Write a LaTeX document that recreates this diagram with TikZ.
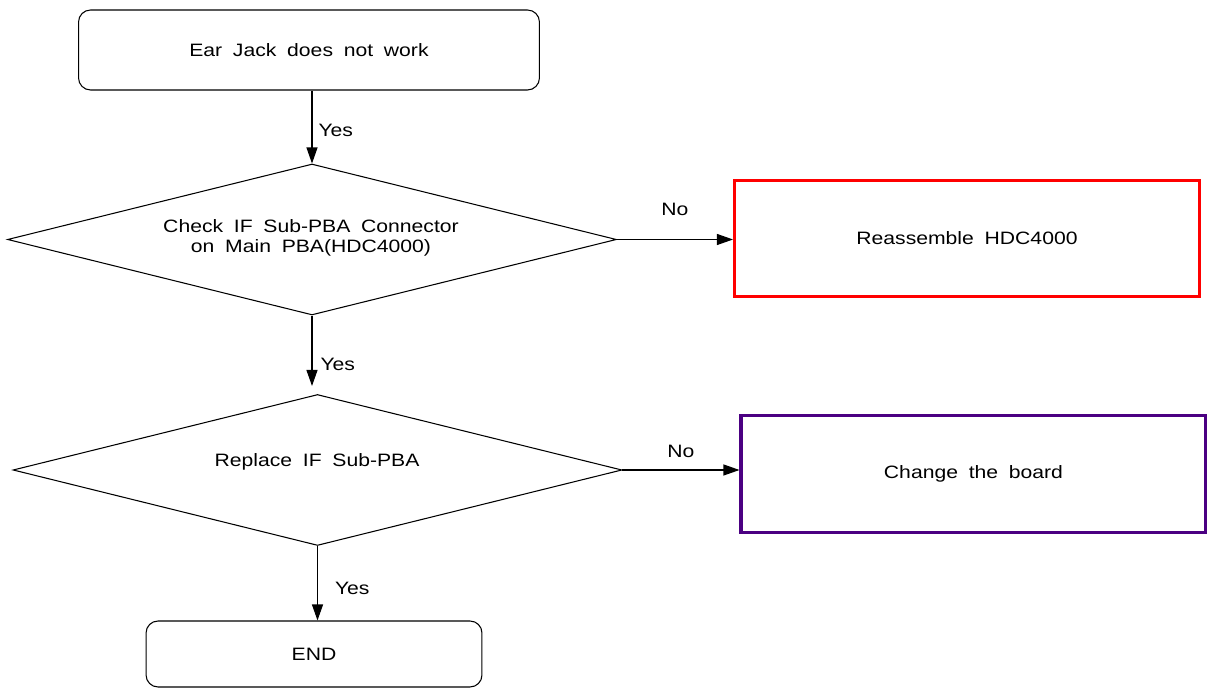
\documentclass[tikz,border=0pt]{standalone}
\usepackage{fontspec}
\setmainfont[FakeStretch=1.18]{Liberation Sans}
\usetikzlibrary{arrows.meta,positioning,shapes.geometric}
\definecolor{alarm}{HTML}{FF0000}
\definecolor{indigo}{HTML}{4B0082}
\newcommand\chartfont{\fontsize{10.2}{11.4}\selectfont\spaceskip 0.6em\relax}

\begin{document}
\begin{tikzpicture}[x=0.02cm,y=-0.02cm,
   font=\chartfont,
   every node/.style={inner sep=0pt},
   term/.style={draw,rounded corners=0.24cm,line width=0.6pt,minimum width=#1},
   decide/.style={draw,diamond,line width=0.6pt,minimum width=12.18cm,minimum height=3.02cm},
   action/.style={draw=#1,line width=1.8pt,minimum width=9.3cm,minimum height=2.33cm},
   flow/.style={line width=0.6pt,-{Triangle[length=0.32cm,width=0.22cm]}}]
  \useasboundingbox (0,0) rectangle (1207,688);
  % terminals
  \node[term=9.22cm,minimum height=1.6cm] (start) at (309,50) {Ear Jack does not work};
  \node[term=6.72cm,minimum height=1.32cm] (finish) at (314,654) {END};
  % decisions
  \node[decide] (chk) at (312,239.5) {};
  \node[align=center] (chktxt) at (311,238) {Check IF Sub-PBA Connector\\on Main PBA(HDC4000)};
  \node[decide] (rep) at (317.5,470) {};
  \node (reptxt) at (317,462) {Replace IF Sub-PBA};
  % actions
  \node[action=alarm] (fix) at (967,238.5) {Reassemble HDC4000};
  \node[action=indigo] (swap) at (973.5,474) {Change the board};
  % connectors
  \draw[flow] (start.south -| chk.north) -- (chk.north)
     node[pos=0.55,right=0.12cm] {Yes};
  \draw[flow,shorten >=0.16cm] (chk.south) -- (chk.south |- rep.north)
     node[pos=0.62,right=0.16cm] {Yes};
  \draw[flow] (rep.south) -- (rep.south |- finish.north)
     node[pos=0.57,right=0.34cm] {Yes};
  \draw[flow] (chk.east) -- (chk.east -| fix.west)
     node[midway,above=0.47cm] {No};
  \draw[flow] (rep.east) -- (rep.east -| swap.west)
     node[midway,above=0.24cm] {No};
\end{tikzpicture}
\end{document}
